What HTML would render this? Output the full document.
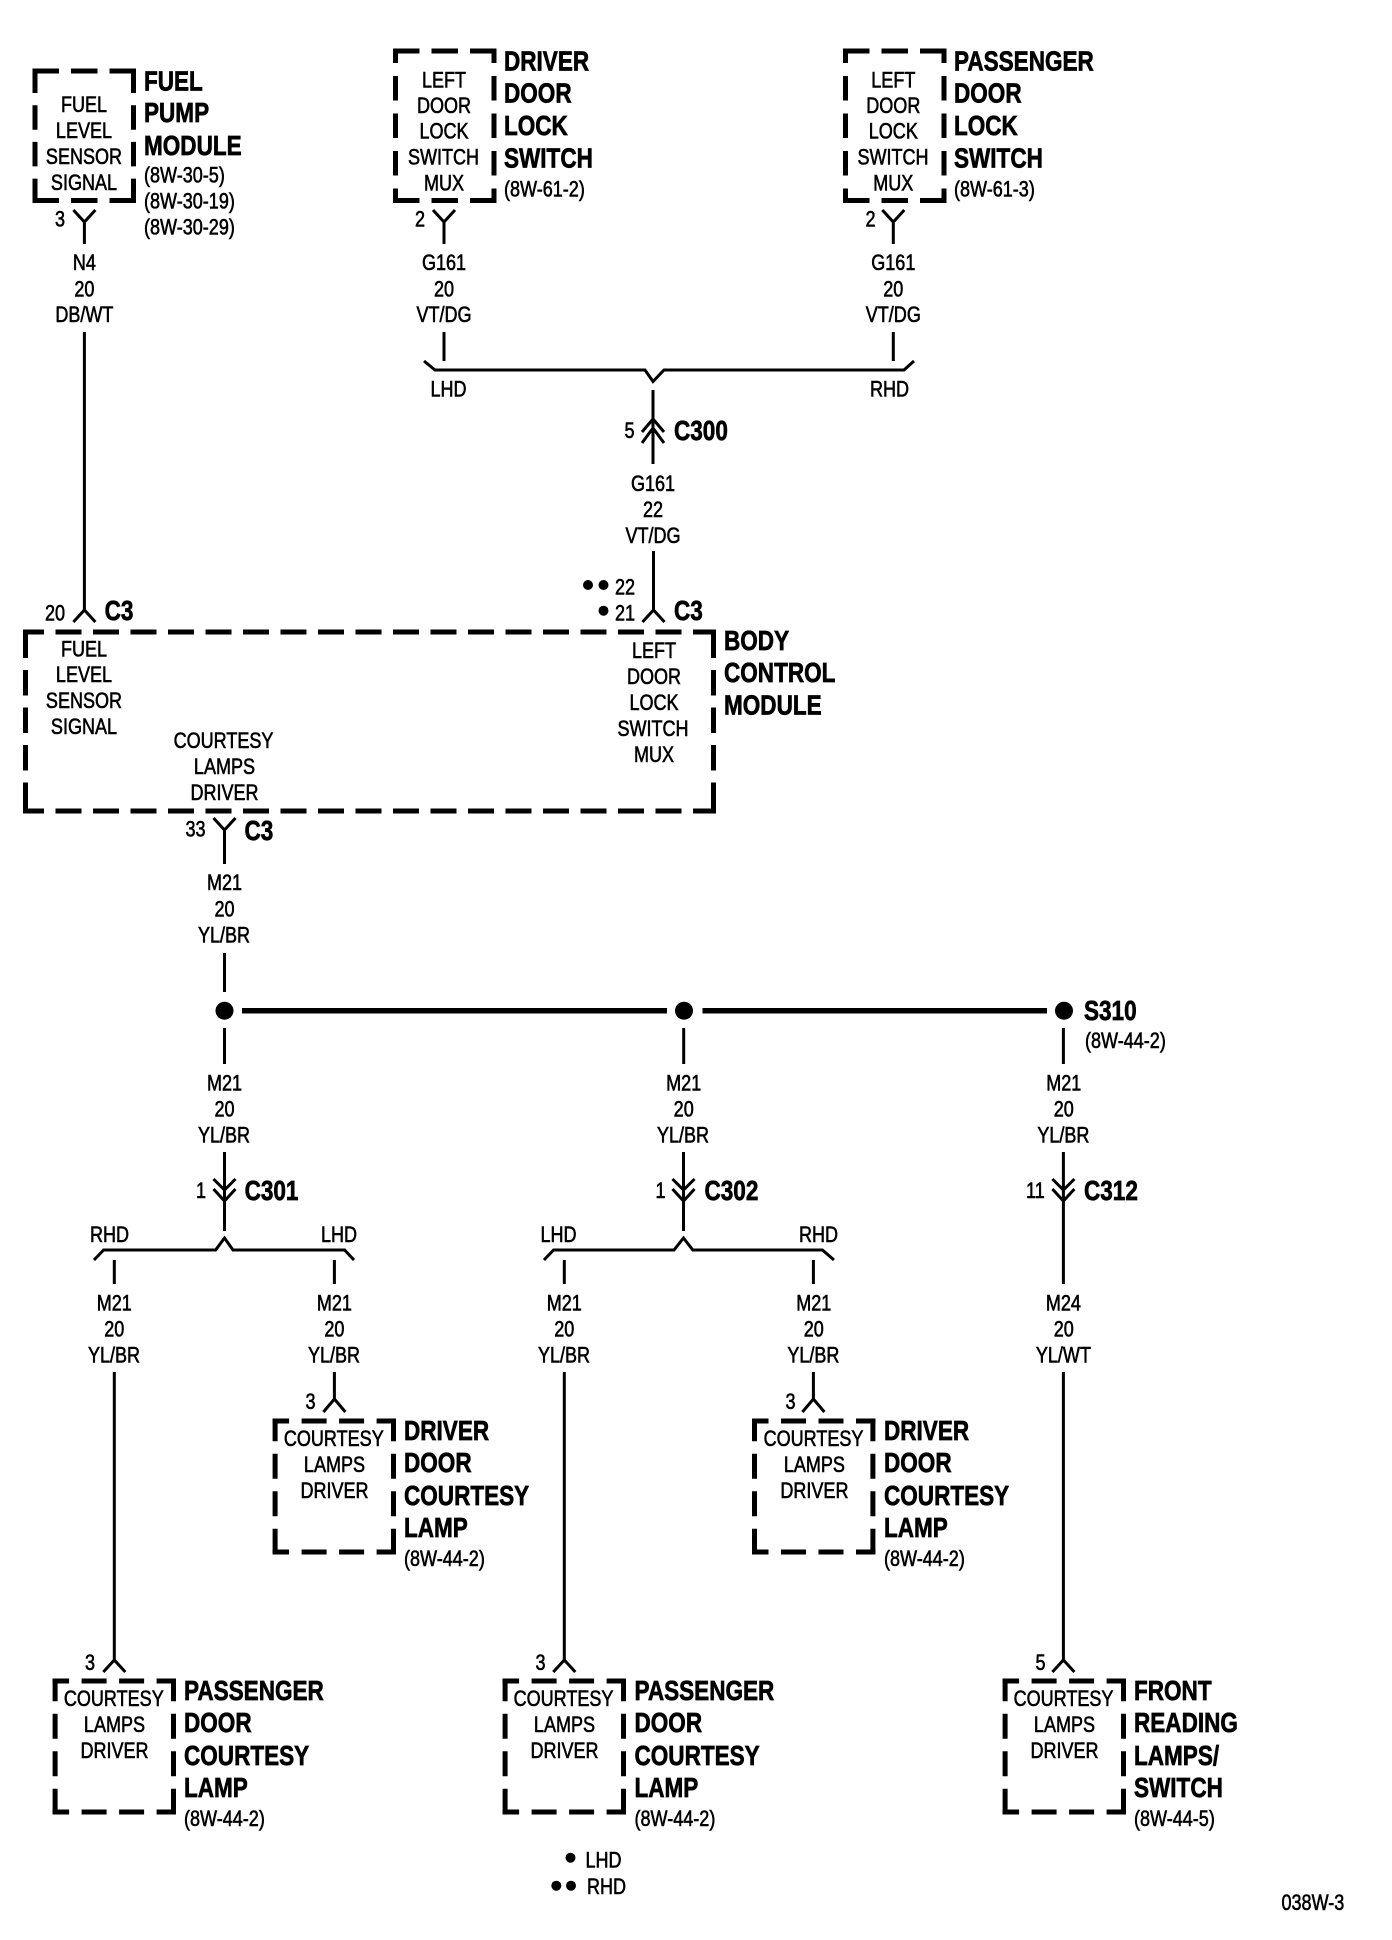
<!DOCTYPE html>
<html><head><meta charset="utf-8"><title>Wiring diagram 038W-3</title>
<style>
html,body{margin:0;padding:0;background:#fff}
svg{display:block}
text{font-family:"Liberation Sans",Arial,sans-serif;fill:#000}
.r{font-size:22px;stroke:#000;stroke-width:.6px}
.b{font-size:28px;font-weight:bold;stroke:#000;stroke-width:.7px}
.m{text-anchor:middle}
.w{fill:none;stroke:#000;stroke-width:3}
.d{fill:none;stroke:#000;stroke-width:5}
</style></head><body>
<svg xmlns="http://www.w3.org/2000/svg" width="1392" height="1940" viewBox="0 0 1392 1940">
<rect width="1392" height="1940" fill="#fff"/>

<!-- boxes -->
<g transform="translate(32.5,68.5)"><path class="d" stroke-dasharray="26.5 12" d="M0 2.5H103.5M0 132H103.5"/><path class="d" stroke-dasharray="24.5 12.2" d="M2.5 0V134.5M101 0V134.5"/></g>
<g transform="translate(393,48.5)"><path class="d" stroke-dasharray="26.5 12" d="M0 2.5H103.5M0 152H103.5"/><path class="d" stroke-dasharray="24.5 13" stroke-dashoffset="10" d="M2.5 0V154.5M101 0V154.5"/></g>
<g transform="translate(843,48.5)"><path class="d" stroke-dasharray="26.5 12" d="M0 2.5H103.5M0 152H103.5"/><path class="d" stroke-dasharray="24.5 13" stroke-dashoffset="10" d="M2.5 0V154.5M101 0V154.5"/></g>
<g transform="translate(23,629.5)"><path class="d" stroke-dasharray="26 11.5" stroke-dashoffset="5" d="M0 2.5H693M0 181.5H693"/><path class="d" stroke-dasharray="25.5 12" d="M2.5 3V184M690.5 3V184"/><path class="d" d="M2.5 0V28M690.5 0V28M2.5 153V184M690.5 153V184"/></g>
<g transform="translate(272.6,1418.5)"><path class="d" stroke-dasharray="25 12.5" stroke-dashoffset="8.5" d="M0 2.5H123.4M0 133.5H123.4"/><path class="d" stroke-dasharray="25 12.5" stroke-dashoffset="2.3" d="M2.5 0V136M120.9 0V136"/></g>
<g transform="translate(752,1418.5)"><path class="d" stroke-dasharray="25 12.5" stroke-dashoffset="8.5" d="M0 2.5H123.4M0 133.5H123.4"/><path class="d" stroke-dasharray="25 12.5" stroke-dashoffset="2.3" d="M2.5 0V136M120.9 0V136"/></g>
<g transform="translate(52.6,1678.5)"><path class="d" stroke-dasharray="25 12.5" stroke-dashoffset="8.5" d="M0 2.5H123.4M0 133.5H123.4"/><path class="d" stroke-dasharray="25 12.5" stroke-dashoffset="2.3" d="M2.5 0V136M120.9 0V136"/></g>
<g transform="translate(502.6,1678.5)"><path class="d" stroke-dasharray="25 12.5" stroke-dashoffset="8.5" d="M0 2.5H123.4M0 133.5H123.4"/><path class="d" stroke-dasharray="25 12.5" stroke-dashoffset="2.3" d="M2.5 0V136M120.9 0V136"/></g>
<g transform="translate(1002.6,1678.5)"><path class="d" stroke-dasharray="25 12.5" stroke-dashoffset="8.5" d="M0 2.5H123.4M0 133.5H123.4"/><path class="d" stroke-dasharray="25 12.5" stroke-dashoffset="2.3" d="M2.5 0V136M120.9 0V136"/></g>

<!-- wires -->
<path class="w" d="
M84.4 244V220M73.4 210L84.4 222L95.4 210
M444 244V220M433 210L444 222L455 210
M893.3 244V220M882.3 210L893.3 222L904.3 210
M84.4 332V610M73.4 622L84.4 610L95.4 622
M444 332V361
M893.3 332V361
M424 361L435 370H645L653 381.5L664 370H904L914 361
M653 390V464
M642 432L653 419L664 432M642 443L653 428L664 443
M653.5 551V610M642.5 622L653.5 610L664.5 622
M224.5 864V830M213.5 818L224.5 830L235.5 818
M224.5 953V992
M224.5 1028V1064M683.7 1028V1064M1063.4 1028V1064
M224.5 1152V1231M213.5 1179L224.5 1190L235.5 1179M213.5 1189L224.5 1201L235.5 1189
M683.5 1152V1231M672.5 1179L683.5 1190L694.5 1179M672.5 1189L683.5 1201L694.5 1189
M1063.4 1152V1284M1052.4 1179L1063.4 1190L1074.4 1179M1052.4 1189L1063.4 1201L1074.4 1189
M94 1260L103.6 1250H215.6L224.5 1238L233 1250H344.6L354 1260
M544 1260L553.6 1250H674L683.5 1238L692.8 1250H822.4L834 1260
M114.3 1260V1284M334.4 1260V1284M564.3 1260V1284M813.4 1260V1284
M114.3 1372V1660M103.3 1672L114.3 1660L125.3 1672
M334.4 1372V1399M323.4 1412L334.4 1399L345.4 1412
M564.3 1372V1660M553.3 1672L564.3 1660L575.3 1672
M813.4 1372V1399M802.4 1412L813.4 1399L824.4 1412
M1063.4 1372V1660M1052.4 1672L1063.4 1660L1074.4 1672"/>
<path fill="none" stroke="#000" stroke-width="5.5" d="M242 1010.7H667M702.5 1010.7H1047"/>
<circle cx="224.5" cy="1010.7" r="9"/><circle cx="684" cy="1010.7" r="9"/><circle cx="1064" cy="1010.7" r="9"/>
<circle cx="588" cy="585" r="5"/><circle cx="603.5" cy="585" r="5"/><circle cx="603.5" cy="610.7" r="5"/>
<circle cx="570.5" cy="1857.7" r="5"/><circle cx="556.3" cy="1885.7" r="5"/><circle cx="571" cy="1885.7" r="5"/>

<!-- top-left -->
<text class="b" transform="matrix(.805 0 0 1 144 90.7)">FUEL</text>
<text class="b" transform="matrix(.805 0 0 1 144 122)">PUMP</text>
<text class="b" transform="matrix(.805 0 0 1 144 155)">MODULE</text>
<text class="r" transform="matrix(.82 0 0 1 144 182.7)">(8W-30-5)</text>
<text class="r" transform="matrix(.82 0 0 1 144 208.7)">(8W-30-19)</text>
<text class="r" transform="matrix(.82 0 0 1 144 234.7)">(8W-30-29)</text>
<text class="r m" transform="matrix(.82 0 0 1 84 112)">FUEL</text>
<text class="r m" transform="matrix(.82 0 0 1 84 138)">LEVEL</text>
<text class="r m" transform="matrix(.82 0 0 1 84 164)">SENSOR</text>
<text class="r m" transform="matrix(.82 0 0 1 84 190)">SIGNAL</text>
<text class="r" transform="matrix(.82 0 0 1 55 226.7)">3</text>
<text class="r m" transform="matrix(.82 0 0 1 84.4 270)">N4</text>
<text class="r m" transform="matrix(.82 0 0 1 84.4 296.7)">20</text>
<text class="r m" transform="matrix(.82 0 0 1 84.4 322)">DB/WT</text>

<!-- driver door lock -->
<text class="b" transform="matrix(.805 0 0 1 504 70.7)">DRIVER</text>
<text class="b" transform="matrix(.805 0 0 1 504 102.7)">DOOR</text>
<text class="b" transform="matrix(.805 0 0 1 504 135)">LOCK</text>
<text class="b" transform="matrix(.805 0 0 1 504 167.3)">SWITCH</text>
<text class="r" transform="matrix(.82 0 0 1 504 196.7)">(8W-61-2)</text>
<text class="r m" transform="matrix(.82 0 0 1 444 87.3)">LEFT</text>
<text class="r m" transform="matrix(.82 0 0 1 444 113)">DOOR</text>
<text class="r m" transform="matrix(.82 0 0 1 444 138.3)">LOCK</text>
<text class="r m" transform="matrix(.82 0 0 1 443.5 164.3)">SWITCH</text>
<text class="r m" transform="matrix(.82 0 0 1 444 190.3)">MUX</text>
<text class="r" transform="matrix(.82 0 0 1 415 226.7)">2</text>
<text class="r m" transform="matrix(.82 0 0 1 444 270)">G161</text>
<text class="r m" transform="matrix(.82 0 0 1 444 296.7)">20</text>
<text class="r m" transform="matrix(.82 0 0 1 444 322)">VT/DG</text>
<text class="r m" transform="matrix(.82 0 0 1 448.5 396.7)">LHD</text>

<!-- passenger door lock -->
<text class="b" transform="matrix(.805 0 0 1 954 70.7)">PASSENGER</text>
<text class="b" transform="matrix(.805 0 0 1 954 102.7)">DOOR</text>
<text class="b" transform="matrix(.805 0 0 1 954 135)">LOCK</text>
<text class="b" transform="matrix(.805 0 0 1 954 167.3)">SWITCH</text>
<text class="r" transform="matrix(.82 0 0 1 954 196.7)">(8W-61-3)</text>
<text class="r m" transform="matrix(.82 0 0 1 893.3 87.3)">LEFT</text>
<text class="r m" transform="matrix(.82 0 0 1 893.3 113)">DOOR</text>
<text class="r m" transform="matrix(.82 0 0 1 893.3 138.3)">LOCK</text>
<text class="r m" transform="matrix(.82 0 0 1 893 164.3)">SWITCH</text>
<text class="r m" transform="matrix(.82 0 0 1 893.3 190.3)">MUX</text>
<text class="r" transform="matrix(.82 0 0 1 865.5 226.7)">2</text>
<text class="r m" transform="matrix(.82 0 0 1 893.3 270)">G161</text>
<text class="r m" transform="matrix(.82 0 0 1 893.3 296.7)">20</text>
<text class="r m" transform="matrix(.82 0 0 1 893.3 322)">VT/DG</text>
<text class="r m" transform="matrix(.82 0 0 1 889.5 396.7)">RHD</text>

<!-- C300 -->
<text class="r" transform="matrix(.82 0 0 1 624.5 438)">5</text>
<text class="b" transform="matrix(.805 0 0 1 674 440)">C300</text>
<text class="r m" transform="matrix(.82 0 0 1 653 491)">G161</text>
<text class="r m" transform="matrix(.82 0 0 1 653 517)">22</text>
<text class="r m" transform="matrix(.82 0 0 1 653 543)">VT/DG</text>

<!-- body control module -->
<text class="r" transform="matrix(.82 0 0 1 45 620.7)">20</text>
<text class="b" transform="matrix(.805 0 0 1 104.6 620)">C3</text>
<text class="r" transform="matrix(.82 0 0 1 615 594.7)">22</text>
<text class="r" transform="matrix(.82 0 0 1 615 620.7)">21</text>
<text class="b" transform="matrix(.805 0 0 1 674 620)">C3</text>
<text class="b" transform="matrix(.805 0 0 1 724 650)">BODY</text>
<text class="b" transform="matrix(.805 0 0 1 724 682)">CONTROL</text>
<text class="b" transform="matrix(.805 0 0 1 724 714.5)">MODULE</text>
<text class="r m" transform="matrix(.82 0 0 1 84 656.7)">FUEL</text>
<text class="r m" transform="matrix(.82 0 0 1 84 682)">LEVEL</text>
<text class="r m" transform="matrix(.82 0 0 1 84 708)">SENSOR</text>
<text class="r m" transform="matrix(.82 0 0 1 84 734)">SIGNAL</text>
<text class="r m" transform="matrix(.82 0 0 1 654 658)">LEFT</text>
<text class="r m" transform="matrix(.82 0 0 1 654 684)">DOOR</text>
<text class="r m" transform="matrix(.82 0 0 1 654 710)">LOCK</text>
<text class="r m" transform="matrix(.82 0 0 1 653 736)">SWITCH</text>
<text class="r m" transform="matrix(.82 0 0 1 654 762)">MUX</text>
<text class="r m" transform="matrix(.82 0 0 1 223.5 748)">COURTESY</text>
<text class="r m" transform="matrix(.82 0 0 1 224.5 774)">LAMPS</text>
<text class="r m" transform="matrix(.82 0 0 1 224.5 800)">DRIVER</text>
<text class="r" transform="matrix(.82 0 0 1 185.5 836.7)">33</text>
<text class="b" transform="matrix(.805 0 0 1 244.5 840)">C3</text>
<text class="r m" transform="matrix(.82 0 0 1 224.5 890)">M21</text>
<text class="r m" transform="matrix(.82 0 0 1 224.5 916.7)">20</text>
<text class="r m" transform="matrix(.82 0 0 1 224 942.7)">YL/BR</text>

<!-- S310 -->
<text class="b" transform="matrix(.805 0 0 1 1084 1020)">S310</text>
<text class="r" transform="matrix(.82 0 0 1 1085 1048)">(8W-44-2)</text>
<text class="r m" transform="matrix(.82 0 0 1 224.5 1090.7)">M21</text>
<text class="r m" transform="matrix(.82 0 0 1 224.5 1116.7)">20</text>
<text class="r m" transform="matrix(.82 0 0 1 224 1142.7)">YL/BR</text>
<text class="r m" transform="matrix(.82 0 0 1 683.7 1090.7)">M21</text>
<text class="r m" transform="matrix(.82 0 0 1 683.7 1116.7)">20</text>
<text class="r m" transform="matrix(.82 0 0 1 683 1142.7)">YL/BR</text>
<text class="r m" transform="matrix(.82 0 0 1 1063.8 1090.7)">M21</text>
<text class="r m" transform="matrix(.82 0 0 1 1063.8 1116.7)">20</text>
<text class="r m" transform="matrix(.82 0 0 1 1063.4 1142.7)">YL/BR</text>

<!-- C301/C302/C312 -->
<text class="r" transform="matrix(.82 0 0 1 196 1198)">1</text>
<text class="b" transform="matrix(.805 0 0 1 244.6 1200)">C301</text>
<text class="r" transform="matrix(.82 0 0 1 655.5 1198)">1</text>
<text class="b" transform="matrix(.805 0 0 1 704.5 1200)">C302</text>
<text class="r" transform="matrix(.82 0 0 1 1026 1198)">11</text>
<text class="b" transform="matrix(.805 0 0 1 1084 1200)">C312</text>
<text class="r m" transform="matrix(.82 0 0 1 109.5 1242)">RHD</text>
<text class="r m" transform="matrix(.82 0 0 1 339 1242)">LHD</text>
<text class="r m" transform="matrix(.82 0 0 1 558.5 1242)">LHD</text>
<text class="r m" transform="matrix(.82 0 0 1 818.5 1242)">RHD</text>

<text class="r m" transform="matrix(.82 0 0 1 114.3 1310.7)">M21</text>
<text class="r m" transform="matrix(.82 0 0 1 114.3 1336.7)">20</text>
<text class="r m" transform="matrix(.82 0 0 1 114 1362.7)">YL/BR</text>
<text class="r m" transform="matrix(.82 0 0 1 334.4 1310.7)">M21</text>
<text class="r m" transform="matrix(.82 0 0 1 334.4 1336.7)">20</text>
<text class="r m" transform="matrix(.82 0 0 1 334 1362.7)">YL/BR</text>
<text class="r m" transform="matrix(.82 0 0 1 564.3 1310.7)">M21</text>
<text class="r m" transform="matrix(.82 0 0 1 564.3 1336.7)">20</text>
<text class="r m" transform="matrix(.82 0 0 1 564 1362.7)">YL/BR</text>
<text class="r m" transform="matrix(.82 0 0 1 813.8 1310.7)">M21</text>
<text class="r m" transform="matrix(.82 0 0 1 813.8 1336.7)">20</text>
<text class="r m" transform="matrix(.82 0 0 1 813.4 1362.7)">YL/BR</text>
<text class="r m" transform="matrix(.82 0 0 1 1063.4 1310.7)">M24</text>
<text class="r m" transform="matrix(.82 0 0 1 1063.8 1336.7)">20</text>
<text class="r m" transform="matrix(.82 0 0 1 1063.4 1362.7)">YL/WT</text>

<!-- driver door courtesy (left) -->
<text class="r" transform="matrix(.82 0 0 1 305.5 1409)">3</text>
<text class="r m" transform="matrix(.82 0 0 1 333.8 1446)">COURTESY</text>
<text class="r m" transform="matrix(.82 0 0 1 334.5 1472)">LAMPS</text>
<text class="r m" transform="matrix(.82 0 0 1 334.5 1498)">DRIVER</text>
<text class="b" transform="matrix(.805 0 0 1 404 1440)">DRIVER</text>
<text class="b" transform="matrix(.805 0 0 1 404 1472)">DOOR</text>
<text class="b" transform="matrix(.805 0 0 1 404 1505)">COURTESY</text>
<text class="b" transform="matrix(.805 0 0 1 404 1537)">LAMP</text>
<text class="r" transform="matrix(.82 0 0 1 404 1566)">(8W-44-2)</text>

<!-- driver door courtesy (right) -->
<text class="r" transform="matrix(.82 0 0 1 785.5 1409)">3</text>
<text class="r m" transform="matrix(.82 0 0 1 813.5 1446)">COURTESY</text>
<text class="r m" transform="matrix(.82 0 0 1 814.4 1472)">LAMPS</text>
<text class="r m" transform="matrix(.82 0 0 1 814.4 1498)">DRIVER</text>
<text class="b" transform="matrix(.805 0 0 1 884 1440)">DRIVER</text>
<text class="b" transform="matrix(.805 0 0 1 884 1472)">DOOR</text>
<text class="b" transform="matrix(.805 0 0 1 884 1505)">COURTESY</text>
<text class="b" transform="matrix(.805 0 0 1 884 1537)">LAMP</text>
<text class="r" transform="matrix(.82 0 0 1 884 1566)">(8W-44-2)</text>

<!-- passenger door courtesy (left) -->
<text class="r" transform="matrix(.82 0 0 1 85 1670)">3</text>
<text class="r m" transform="matrix(.82 0 0 1 113.8 1706)">COURTESY</text>
<text class="r m" transform="matrix(.82 0 0 1 114.5 1732)">LAMPS</text>
<text class="r m" transform="matrix(.82 0 0 1 114.5 1758.2)">DRIVER</text>
<text class="b" transform="matrix(.805 0 0 1 184 1700)">PASSENGER</text>
<text class="b" transform="matrix(.805 0 0 1 184 1732)">DOOR</text>
<text class="b" transform="matrix(.805 0 0 1 184 1765)">COURTESY</text>
<text class="b" transform="matrix(.805 0 0 1 184 1797)">LAMP</text>
<text class="r" transform="matrix(.82 0 0 1 184 1826)">(8W-44-2)</text>

<!-- passenger door courtesy (center) -->
<text class="r" transform="matrix(.82 0 0 1 535.5 1670)">3</text>
<text class="r m" transform="matrix(.82 0 0 1 563.5 1706)">COURTESY</text>
<text class="r m" transform="matrix(.82 0 0 1 564.5 1732)">LAMPS</text>
<text class="r m" transform="matrix(.82 0 0 1 564.5 1758.2)">DRIVER</text>
<text class="b" transform="matrix(.805 0 0 1 634.5 1700)">PASSENGER</text>
<text class="b" transform="matrix(.805 0 0 1 634.5 1732)">DOOR</text>
<text class="b" transform="matrix(.805 0 0 1 634.5 1765)">COURTESY</text>
<text class="b" transform="matrix(.805 0 0 1 634.5 1797)">LAMP</text>
<text class="r" transform="matrix(.82 0 0 1 634.5 1826)">(8W-44-2)</text>

<!-- front reading -->
<text class="r" transform="matrix(.82 0 0 1 1035.5 1670)">5</text>
<text class="r m" transform="matrix(.82 0 0 1 1063.5 1706)">COURTESY</text>
<text class="r m" transform="matrix(.82 0 0 1 1064.5 1732)">LAMPS</text>
<text class="r m" transform="matrix(.82 0 0 1 1064.5 1758.2)">DRIVER</text>
<text class="b" transform="matrix(.805 0 0 1 1134 1700)">FRONT</text>
<text class="b" transform="matrix(.805 0 0 1 1134 1732)">READING</text>
<text class="b" transform="matrix(.805 0 0 1 1134 1765)">LAMPS/</text>
<text class="b" transform="matrix(.805 0 0 1 1134 1797)">SWITCH</text>
<text class="r" transform="matrix(.82 0 0 1 1134 1826)">(8W-44-5)</text>

<!-- legend -->
<text class="r" transform="matrix(.82 0 0 1 585.5 1867.7)">LHD</text>
<text class="r" transform="matrix(.82 0 0 1 587 1894)">RHD</text>
<text class="r" transform="matrix(.82 0 0 1 1281.5 1910)">038W-3</text>
</svg>
</body></html>
